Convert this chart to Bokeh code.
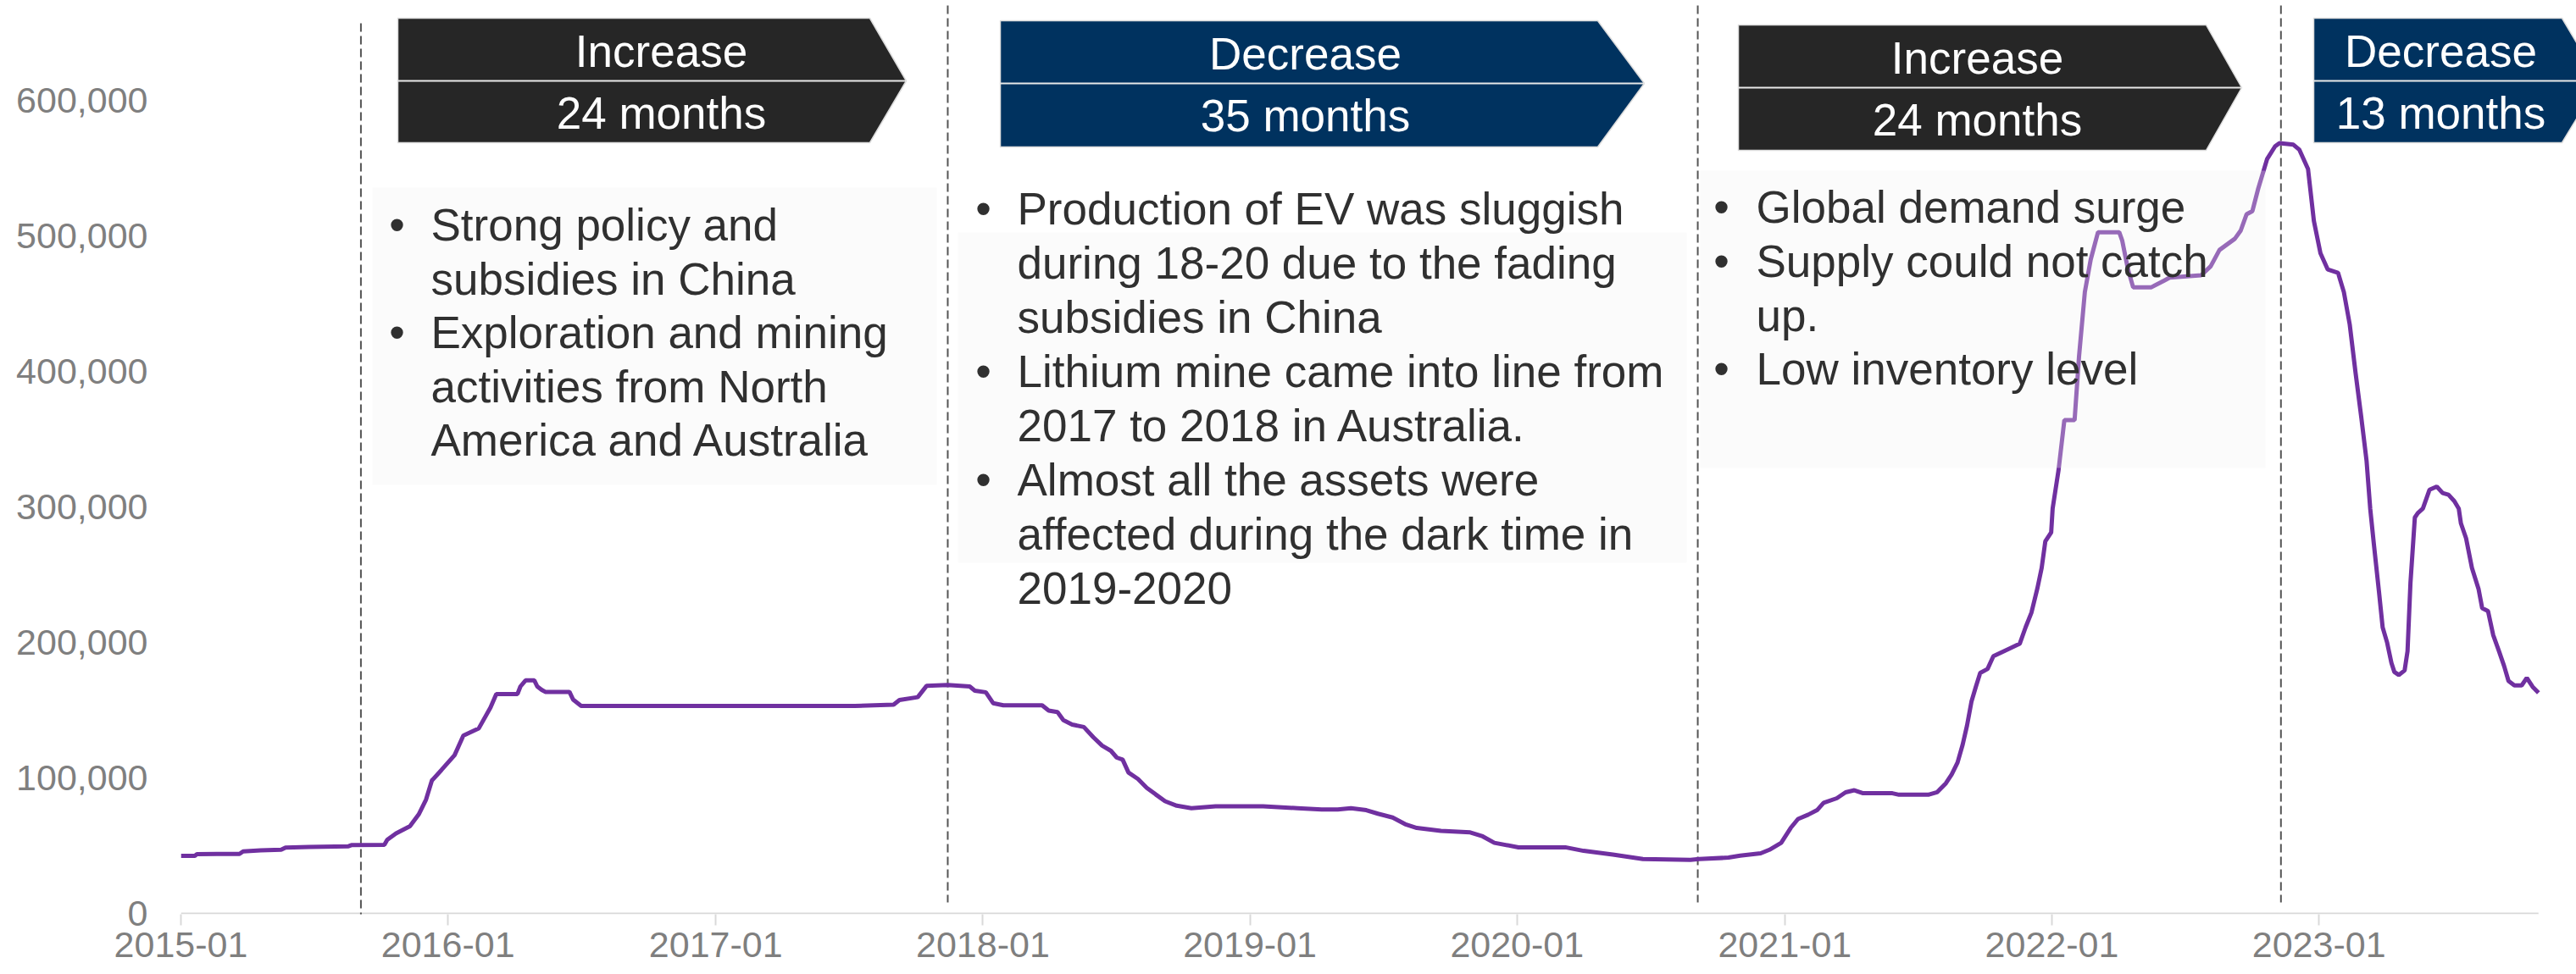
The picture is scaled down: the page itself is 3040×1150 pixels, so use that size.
import numpy as np
import pandas as pd
from bokeh.plotting import figure
from bokeh.models import Range1d, FixedTicker, NumeralTickFormatter, DatetimeTickFormatter
from bokeh.core.properties import value
from bokeh.embed import file_html
from bokeh.resources import INLINE

# ---------------- data ----------------
DATES = [
    "2015-01-01", "2015-01-20", "2015-01-23", "2015-03-22", "2015-03-27", "2015-04-20", "2015-05-18",
    "2015-05-24", "2015-06-25", "2015-08-18", "2015-08-22", "2015-10-06", "2015-10-10", "2015-10-22",
    "2015-11-10", "2015-11-22", "2015-12-02", "2015-12-10", "2015-12-23", "2016-01-10", "2016-01-22",
    "2016-02-12", "2016-02-28", "2016-03-07", "2016-04-05", "2016-04-09", "2016-04-16", "2016-04-28",
    "2016-05-02", "2016-05-08", "2016-05-13", "2016-06-15", "2016-06-20", "2016-07-01", "2017-07-10",
    "2017-09-01", "2017-09-09", "2017-10-04", "2017-10-16", "2017-11-14", "2017-12-14", "2017-12-21",
    "2018-01-05", "2018-01-15", "2018-01-29", "2018-03-23", "2018-04-01", "2018-04-13", "2018-04-21",
    "2018-05-03", "2018-05-19", "2018-06-01", "2018-06-13", "2018-06-25", "2018-07-03", "2018-07-11",
    "2018-07-19", "2018-08-01", "2018-08-13", "2018-08-25", "2018-09-07", "2018-09-23", "2018-10-13",
    "2018-11-15", "2019-01-19", "2019-03-07", "2019-04-09", "2019-05-01", "2019-05-19", "2019-06-09",
    "2019-06-25", "2019-07-15", "2019-08-01", "2019-08-17", "2019-09-19", "2019-10-29", "2019-11-15",
    "2019-12-01", "2020-01-03", "2020-03-07", "2020-04-01", "2020-05-11", "2020-06-21", "2020-08-25",
    "2020-09-06", "2020-10-16", "2020-11-01", "2020-11-29", "2020-12-11", "2020-12-27", "2021-01-09",
    "2021-01-19", "2021-02-02", "2021-02-14", "2021-02-23", "2021-03-13", "2021-03-25", "2021-04-06",
    "2021-04-18", "2021-05-28", "2021-06-06", "2021-07-16", "2021-07-28", "2021-08-09", "2021-08-17",
    "2021-08-25", "2021-09-01", "2021-09-07", "2021-09-13", "2021-09-19", "2021-09-25", "2021-10-05",
    "2021-10-13", "2021-10-29", "2021-11-18", "2021-11-26", "2021-12-04", "2021-12-12", "2021-12-18",
    "2021-12-23", "2021-12-31", "2022-01-02", "2022-01-10", "2022-01-18", "2022-02-01", "2022-02-07",
    "2022-02-15", "2022-02-23", "2022-03-05", "2022-04-03", "2022-04-07", "2022-04-15", "2022-04-22",
    "2022-05-17", "2022-06-03", "2022-06-11", "2022-07-24", "2022-08-06", "2022-08-18", "2022-09-08",
    "2022-09-16", "2022-09-24", "2022-10-02", "2022-10-10", "2022-10-22", "2022-11-02", "2022-11-08",
    "2022-11-27", "2022-12-05", "2022-12-17", "2022-12-25", "2023-01-03", "2023-01-13", "2023-01-27",
    "2023-02-04", "2023-02-12", "2023-02-20", "2023-02-28", "2023-03-07", "2023-03-12", "2023-03-17",
    "2023-03-24", "2023-03-29", "2023-04-04", "2023-04-10", "2023-04-14", "2023-04-20", "2023-04-28",
    "2023-05-02", "2023-05-06", "2023-05-12", "2023-05-16", "2023-05-23", "2023-06-01", "2023-06-11",
    "2023-06-19", "2023-06-27", "2023-07-05", "2023-07-11", "2023-07-14", "2023-07-21", "2023-07-29",
    "2023-08-07", "2023-08-12", "2023-08-20", "2023-08-27", "2023-09-04", "2023-09-11", "2023-09-17",
    "2023-09-25", "2023-10-05", "2023-10-12", "2023-10-20", "2023-10-28",
]
PRICE = [
    42500, 42500, 43800, 43900, 45800, 46600, 47000,
    48600, 49000, 49600, 50400, 50600, 54400, 59100,
    64400, 73100, 84000, 98100, 105800, 116800, 131200,
    136500, 151900, 161900, 161900, 167500, 172000, 172000,
    167500, 165000, 163500, 163500, 157800, 153100, 153100,
    154100, 157500, 159600, 167900, 168600, 167500, 164400,
    163200, 155200, 153600, 153600, 149700, 148600, 142700,
    139400, 137600, 130000, 123800, 120000, 115000, 113500,
    104000, 99200, 92700, 87900, 82800, 79500, 77700,
    79100, 79100, 77700, 76700, 76700, 77700, 76200,
    73600, 70800, 65900, 63100, 60900, 59800, 56900,
    52100, 48800, 48800, 46200, 43400, 40100, 39600,
    40100, 41200, 42700, 44400, 47000, 52100, 63100,
    69700, 72900, 76200, 81700, 85000, 89400, 90900,
    88700, 88700, 87600, 87600, 89400, 96000, 102600,
    111300, 124500, 138700, 156200, 167200, 177500, 180400,
    189800, 193900, 199000, 211100, 222000, 239600, 255000,
    274600, 281200, 298800, 326900, 364000, 364000, 410600,
    458500, 482500, 502700, 502700, 496700, 475200, 462100,
    462100, 466900, 469200, 470900, 477600, 489600, 497900,
    503900, 515900, 518300, 535000, 556600, 566100, 568500,
    567300, 563700, 549400, 511100, 487200, 475200, 472800,
    458500, 434600, 398800, 365200, 334100, 298800, 272500,
    237400, 211100, 200100, 184800, 178200, 176000, 179300,
    193500, 243900, 292200, 295400, 298800, 312600, 315000,
    310200, 309000, 304200, 298800, 287800, 276900, 255000,
    239600, 225300, 223100, 205600, 193500, 182600, 171600,
    168300, 168300, 173800, 167200, 162800,
]

TURN_DATES = ["2015-09-04", "2017-11-14", "2020-09-04", "2022-11-10"]
PHASES = ["Increase", "Decrease", "Increase", "Decrease"]
DURATIONS = ["24 months", "35 months", "24 months", "13 months"]
NOTES = [
    [["Strong policy and", "subsidies in China"],
     ["Exploration and mining", "activities from North", "America and Australia"]],
    [["Production of EV was sluggish", "during 18-20 due to the fading", "subsidies in China"],
     ["Lithium mine came into line from", "2017 to 2018 in Australia."],
     ["Almost all the assets were", "affected during the dark time in", "2019-2020"]],
    [["Global demand surge"],
     ["Supply could not catch", "up."],
     ["Low inventory level"]],
]
Y_TICKS = [0, 100000, 200000, 300000, 400000, 500000, 600000]
X_TICK_YEARS = list(range(2015, 2024))

# ---------------- layout helpers (reference pixel geometry -> data) ----------------
PX0, PX_YEAR = 213.0, 315.4      # screen x of 2015-01-01, pixels per year
PY0, PY_UNIT = 1078.0, 625.0     # screen y of value 0, value per pixel
MS_DAY = 86400000.0
T0_MS = pd.Timestamp("2015-01-01").value / 1e6


def X(px):
    return T0_MS + (px - PX0) / PX_YEAR * 365.25 * MS_DAY


def Y(py):
    return (PY0 - py) * PY_UNIT


def ms(d):
    return pd.Timestamp(d).value / 1e6


FONT = value("Liberation Sans")
W, H = 3040, 1150
FRAME_BOTTOM = 1079

p = figure(width=W, height=H, x_axis_type="datetime", output_backend="svg", toolbar_location=None,
           x_range=Range1d(X(213), X(W)), y_range=Range1d(Y(FRAME_BOTTOM), Y(0)),
           min_border_left=213, min_border_right=0, min_border_top=0,
           min_border_bottom=H - FRAME_BOTTOM)
p.outline_line_color = None
p.xgrid.visible = False
p.ygrid.visible = False
p.background_fill_color = "white"
p.border_fill_color = "white"

# x axis
p.xaxis.ticker = FixedTicker(ticks=[ms(f"{y}-01-01") for y in X_TICK_YEARS])
p.xaxis.formatter = DatetimeTickFormatter(years="%Y-%m", months="%Y-%m", days="%Y-%m",
                                          hours="%Y-%m", minutes="%Y-%m", seconds="%Y-%m")
p.xaxis.axis_line_color = None
p.xaxis.major_tick_line_color = "#d9d9d9"
p.xaxis.major_tick_line_width = 2
p.xaxis.major_tick_out = 13
p.xaxis.major_tick_in = 0
p.xaxis.minor_tick_line_color = None
p.xaxis.major_label_text_font = "Liberation Sans"
p.xaxis.major_label_text_font_size = "43px"
p.xaxis.major_label_text_color = "#7f7f7f"
p.xaxis.major_label_standoff = 8

# y axis
p.yaxis.ticker = FixedTicker(ticks=Y_TICKS)
p.yaxis.formatter = NumeralTickFormatter(format="0,0")
p.yaxis.axis_line_color = None
p.yaxis.major_tick_line_color = None
p.yaxis.minor_tick_line_color = None
p.yaxis.major_tick_out = 0
p.yaxis.major_tick_in = 0
p.yaxis.major_label_text_font = "Liberation Sans"
p.yaxis.major_label_text_font_size = "43px"
p.yaxis.major_label_text_color = "#7f7f7f"
p.yaxis.major_label_standoff = 39

dates = pd.to_datetime(DATES)

# baseline (axis line over the data span)
p.line(x=[dates[0], dates[-1]], y=[0, 0], line_color="#d9d9d9", line_width=2)

# dashed turning-point lines
tx = [ms(d) for d in TURN_DATES]
p.segment(x0=tx, x1=tx, y0=[Y(27), Y(6), Y(6), Y(6)], y1=[Y(1090), Y(1065), Y(1065), Y(1065)],
          line_color="#555555", line_width=2, line_dash="10 5")

# price line
p.line(x=dates, y=PRICE, line_color="#7030A0", line_width=5)

# note boxes (semi-transparent, drawn over the line)
boxes = [(439, 1105, 221, 572), (1130, 1990, 274, 664), (2006, 2673, 201, 552)]
p.quad(left=[X(b[0]) for b in boxes], right=[X(b[1]) for b in boxes],
       top=[Y(b[2]) for b in boxes], bottom=[Y(b[3]) for b in boxes],
       fill_color="#f2f2f2", fill_alpha=0.3, line_color=None)

# phase arrows
arrows = [(469, 1026, 1069, 21, 95, 168), (1180, 1885, 1940, 24, 98, 173),
          (2051, 2603, 2645, 29, 103, 177), (2730, 3023, 3067, 21, 95, 168)]
arrow_colors = ["#262626", "#00325F", "#262626", "#00325F"]
text_cx = [780, 1540, 2333, 2880]
xs, ys = [], []
for (l, be, pt, t, m, b) in arrows:
    xs.append([X(l), X(be), X(pt), X(be), X(l)])
    ys.append([Y(t), Y(t), Y(m), Y(b), Y(b)])
p.patches(xs=xs, ys=ys, fill_color=arrow_colors, line_color="#dcdcdc", line_width=1.5)
p.segment(x0=[X(a[0]) for a in arrows], x1=[X(a[2]) for a in arrows],
          y0=[Y(a[4]) for a in arrows], y1=[Y(a[4]) for a in arrows],
          line_color="#e8e8e8", line_width=2)
p.text(x=[X(c) for c in text_cx], y=[Y(a[4] - 35) for a in arrows], text=PHASES,
       text_font=FONT, text_font_size=value("53px"), text_color="white",
       text_align="center", text_baseline="alphabetic")
p.text(x=[X(c) for c in text_cx], y=[Y(a[4] + 38) for a in arrows], text=DURATIONS,
       text_font=FONT, text_font_size=value("53px"), text_color="white",
       text_align="center", text_baseline="alphabetic")

# bullet notes (y = visual centre of each text line)
note_layout = [(468, 508, 265, 63.5), (1160, 1200, 246, 64.0), (2031, 2072, 244, 63.8)]
bx, by, tx_, ty, tt = [], [], [], [], []
for notes, (bpx, tpx, first, step) in zip(NOTES, note_layout):
    k = 0
    for bullet in notes:
        bx.append(X(bpx))
        by.append(Y(first + k * step))
        for line in bullet:
            tx_.append(X(tpx))
            ty.append(Y(first + k * step))
            tt.append(line)
            k += 1
p.text(x=bx, y=by, text=["\u2022"] * len(bx), text_font=FONT, text_font_size=value("53px"),
       text_color="#303030", text_align="center", text_baseline="alphabetic")
p.text(x=tx_, y=ty, text=tt, text_font=FONT, text_font_size=value("53px"),
       text_color="#303030", text_align="left", text_baseline="alphabetic")

open("out.html", "w").write(file_html(p, INLINE))
